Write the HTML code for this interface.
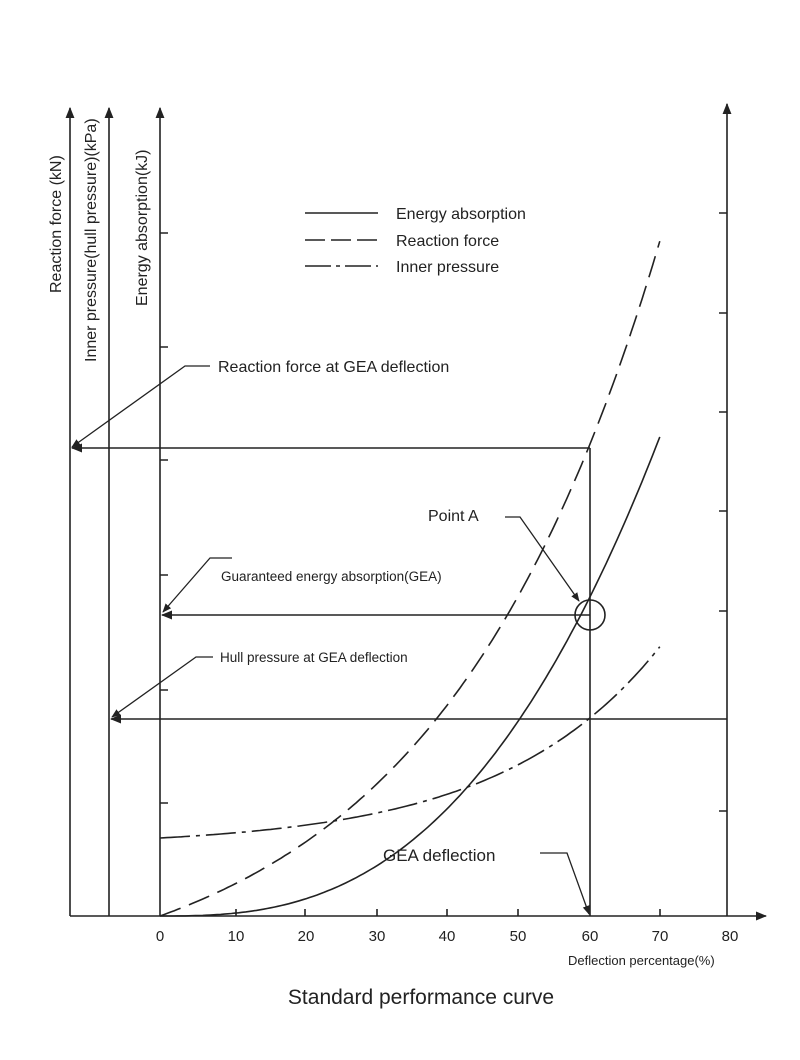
<!DOCTYPE html>
<html><head><meta charset="utf-8"><style>
html,body{margin:0;padding:0;background:#fff;}
svg{display:block;font-family:"Liberation Sans",Arial,sans-serif;}
</style></head><body>
<svg width="800" height="1060" viewBox="0 0 800 1060" xmlns="http://www.w3.org/2000/svg">
<defs>
<marker id="ah" viewBox="0 0 10 10" refX="9" refY="5" markerWidth="7" markerHeight="7" orient="auto-start-reverse"><path d="M0,1 L10,5 L0,9 z" fill="#222"/></marker>
</defs>
<rect width="800" height="1060" fill="#fff"/>
<g stroke="#222" stroke-width="1.6" fill="none">
<line x1="70" y1="916" x2="70" y2="108" marker-end="url(#ah)"/>
<line x1="109" y1="916" x2="109" y2="108" marker-end="url(#ah)"/>
<line x1="160" y1="916" x2="160" y2="108" marker-end="url(#ah)"/>
<line x1="727" y1="916" x2="727" y2="104" marker-end="url(#ah)"/>
<line x1="70" y1="916" x2="766" y2="916" marker-end="url(#ah)"/>
<path d="M236 916v-7M305 916v-7M377 916v-7M447 916v-7M518 916v-7M660 916v-7"/>
<path d="M160 233h8M160 347h8M160 460h8M160 575h8M160 690h8M160 803h8"/>
<path d="M727 213h-8M727 313h-8M727 412h-8M727 511h-8M727 611h-8M727 811h-8"/>
<line x1="590" y1="448" x2="72" y2="448" marker-end="url(#ah)"/>
<line x1="590" y1="448" x2="590" y2="916"/>
<line x1="590" y1="615" x2="162" y2="615" marker-end="url(#ah)"/>
<line x1="727" y1="719" x2="111" y2="719" marker-end="url(#ah)"/>
<ellipse cx="590" cy="615" rx="15" ry="15"/>
<path id="rf" stroke-dasharray="22 9"/>
<path id="ea"/>
<path id="ip" stroke-dasharray="30 6 4 6"/>
<line x1="305" y1="213" x2="378" y2="213"/>
<line x1="305" y1="240" x2="378" y2="240" stroke-dasharray="20 6"/>
<line x1="305" y1="266" x2="378" y2="266" stroke-dasharray="26 5 4 5"/>
<polyline points="210,366 185,366 72,447" marker-end="url(#ah)" stroke-width="1.3"/>
<polyline points="232,558 210,558 163,612" marker-end="url(#ah)" stroke-width="1.3"/>
<polyline points="213,657 196,657 112,717" marker-end="url(#ah)" stroke-width="1.3"/>
<polyline points="505,517 520,517 579,601" marker-end="url(#ah)" stroke-width="1.3"/>
<polyline points="540,853 567,853 589,914" marker-end="url(#ah)" stroke-width="1.3"/>
</g>
<g fill="#222">
<text x="396" y="219" font-size="16">Energy absorption</text>
<text x="396" y="246" font-size="16">Reaction force</text>
<text x="396" y="272" font-size="16">Inner pressure</text>
<text x="218" y="372" font-size="16">Reaction force at GEA deflection</text>
<text x="221" y="581" font-size="13.5">Guaranteed energy absorption(GEA)</text>
<text x="220" y="662" font-size="13.5">Hull pressure at GEA deflection</text>
<text x="428" y="521" font-size="16">Point A</text>
<text x="383" y="861" font-size="17">GEA deflection</text>
<g font-size="15" text-anchor="middle">
<text x="160" y="941">0</text><text x="236" y="941">10</text><text x="306" y="941">20</text><text x="377" y="941">30</text><text x="447" y="941">40</text><text x="518" y="941">50</text><text x="590" y="941">60</text><text x="660" y="941">70</text><text x="730" y="941">80</text>
</g>
<text x="568" y="965" font-size="13">Deflection percentage(%)</text>
<text x="421" y="1004" font-size="21" text-anchor="middle">Standard performance curve</text>
<text transform="translate(61,293) rotate(-90)" font-size="16">Reaction force (kN)</text>
<text transform="translate(96,362) rotate(-90)" font-size="16">Inner pressure(hull pressure)(kPa)</text>
<text transform="translate(147,306) rotate(-90)" font-size="16">Energy absorption(kJ)</text>
</g>
</svg>
<script>
function mk(id,f){var d="";for(var t=0;t<=70.001;t+=0.5){var x=160+t*7.14,y=f(t);d+=(t?" L":"M")+x.toFixed(1)+" "+y.toFixed(1);}document.getElementById(id).setAttribute("d",d);}
mk("rf",function(t){return 916-80.4*(Math.exp(0.032*t)-1);});
mk("ea",function(t){return 916-316*Math.pow(t/60,2.7);});
mk("ip",function(t){return 838-8.56*(Math.exp(0.045*t)-1);});
</script>
</body></html>
